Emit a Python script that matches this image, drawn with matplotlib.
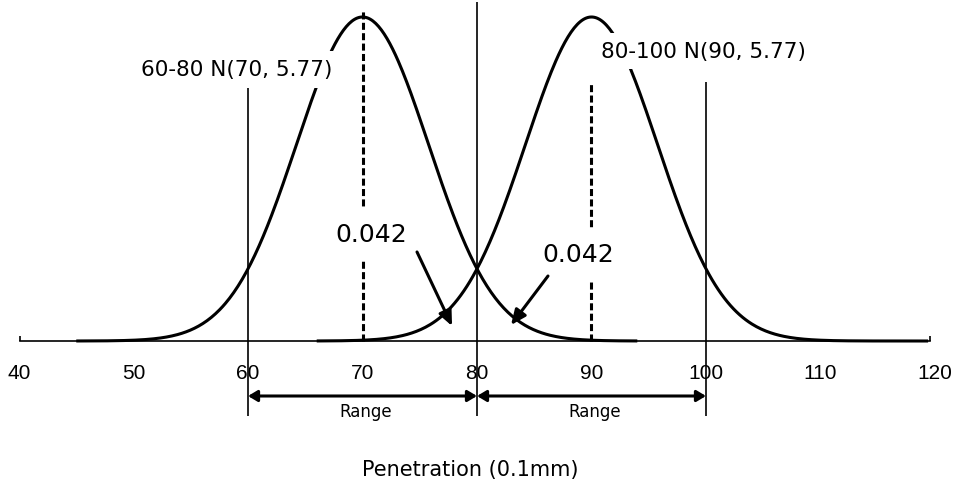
import numpy as np
import matplotlib.pyplot as plt

# values
ticks = [40, 50, 60, 70, 80, 90, 100, 110, 120]
means = [70, 90]
sd = 5.77
curve_span = [(45, 94), (66, 119.4)]
limits = [60, 80, 100]
grade_labels = ['60-80 N(70, 5.77)', '80-100 N(90, 5.77)']
tail_prob = '0.042'
range_label = 'Range'
xlabel = 'Penetration (0.1mm)'


def pdf(x, mu, s):
    return np.exp(-0.5 * ((x - mu) / s) ** 2) / (s * np.sqrt(2 * np.pi))


peak = pdf(0, 0, sd)
u = peak / 324.0  # one pixel in y data units

fig = plt.figure(figsize=(9.54, 4.85), dpi=100)
ax = fig.add_axes([0, 0, 1, 1])
ax.set_xlim(38.34, 121.66)
ax.set_ylim(-143 * u, 342 * u)

# baseline as the bottom spine at y=0
for side in ['top', 'right', 'left']:
    ax.spines[side].set_visible(False)
ax.spines['bottom'].set_position(('data', 0))
ax.spines['bottom'].set_bounds(40.09, 119.56)
ax.spines['bottom'].set_linewidth(1.2)
ax.set_yticks([])
ax.set_xticks(ticks)
ax.set_xticklabels([str(t) for t in ticks], fontsize=15, family=['Liberation Sans', 'DejaVu Sans'])
ax.tick_params(axis='x', length=0, pad=16)
ax.vlines([40.09, 119.56], 0, 5 * u, color='black', lw=1.2)

# the two normal curves
for mu, (a, b) in zip(means, curve_span):
    xs = np.linspace(a, b, 400)
    ax.plot(xs, pdf(xs, mu, sd), color='black', lw=2.2, zorder=3, solid_capstyle='butt')

# spec limit lines
ax.vlines([limits[0], limits[2]], -75 * u, 259 * u, color='black', lw=1.2)
ax.vlines(limits[1], -75 * u, 339 * u, color='black', lw=1.2)

# dashed mean lines
ax.plot([means[0], means[0]], [0, 330 * u], color='black', lw=2.2, ls=(0, (2.3, 1.1)), zorder=2)
ax.plot([means[1], means[1]], [0, 257 * u], color='black', lw=2.2, ls=(0, (2.3, 1.1)), zorder=2)

box = dict(facecolor='white', edgecolor='none', pad=6)
ax.text(59.0, 0.0580, grade_labels[0], fontsize=15.5, ha='center', va='center', bbox=box, zorder=5)
ax.text(99.78, 0.0619, grade_labels[1], fontsize=15.5, ha='center', va='center', bbox=box, zorder=5)

box2 = dict(facecolor='white', edgecolor='none', pad=10)
ax.text(70.74, 0.02283, tail_prob, fontsize=18, ha='center', va='center', bbox=box2, zorder=5)
ax.text(88.82, 0.01857, tail_prob, fontsize=18, ha='center', va='center', bbox=box2, zorder=5)

# pointer arrows to the tails
ax.annotate('', xy=(77.82, 0.0032), xytext=(74.76, 0.0190),
            arrowprops=dict(arrowstyle='-|>,head_length=0.5,head_width=0.22', lw=2.2, color='black',
                            mutation_scale=18, shrinkA=0, shrinkB=0), zorder=6)
ax.annotate('', xy=(82.97, 0.00341), xytext=(86.20, 0.01387),
            arrowprops=dict(arrowstyle='-|>,head_length=0.5,head_width=0.22', lw=2.2, color='black',
                            mutation_scale=18, shrinkA=0, shrinkB=0), zorder=6)

# range arrows below the axis
for a, b in [(limits[0], limits[1]), (limits[1], limits[2])]:
    ax.annotate('', xy=(b, -55 * u), xytext=(a, -55 * u),
                arrowprops=dict(arrowstyle='<|-|>,head_length=0.5,head_width=0.3', lw=2.2,
                                color='black', mutation_scale=11, shrinkA=0, shrinkB=0))
    ax.text((a + b) / 2 + 0.3, -70 * u, range_label, fontsize=12, ha='center', va='center')

ax.text(79.39, -128 * u, xlabel, fontsize=15, ha='center', va='center')

fig.savefig('out.png', dpi=100)
